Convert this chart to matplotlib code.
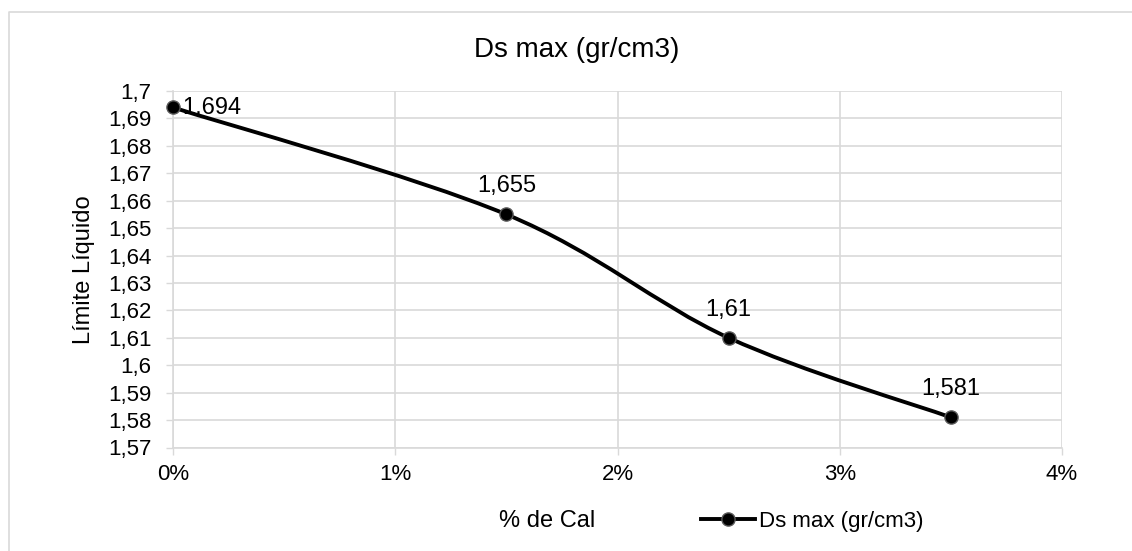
import matplotlib.pyplot as plt
from matplotlib.path import Path
from matplotlib.patches import PathPatch
from matplotlib.lines import Line2D
from matplotlib.ticker import FuncFormatter

plt.rcParams['font.family'] = ['Liberation Sans', 'DejaVu Sans']

# datos
cal = [0.0, 1.5, 2.5, 3.5]          # % de cal
ds_max = [1.694, 1.655, 1.61, 1.581]
etiquetas = ['1,694', '1,655', '1,61', '1,581']

titulo = 'Ds max (gr/cm3)'
xticks = [0, 1, 2, 3, 4]
yticks = [1.57 + 0.01 * i for i in range(14)]

gris = '#d9d9d9'
W, H = 1132, 551

fig = plt.figure(figsize=(11.32, 5.51), dpi=100)
ax = fig.add_axes([173 / W, 1 - 447.5 / H, 889 / W, 356.5 / H])

# linea suavizada tipo Excel (bezier por catmull-rom)
verts = [(cal[0], ds_max[0])]
codes = [Path.MOVETO]
n = len(cal)
for i in range(n - 1):
    p0 = (cal[max(i - 1, 0)], ds_max[max(i - 1, 0)])
    p1 = (cal[i], ds_max[i])
    p2 = (cal[i + 1], ds_max[i + 1])
    p3 = (cal[min(i + 2, n - 1)], ds_max[min(i + 2, n - 1)])
    c1 = (p1[0] + (p2[0] - p0[0]) / 6, p1[1] + (p2[1] - p0[1]) / 6)
    c2 = (p2[0] - (p3[0] - p1[0]) / 6, p2[1] - (p3[1] - p1[1]) / 6)
    verts += [c1, c2, p2]
    codes += [Path.CURVE4] * 3
ax.add_patch(PathPatch(Path(verts, codes), fill=False, lw=2.8, ec='black',
                       capstyle='round', zorder=3))
ax.plot(cal, ds_max, ls='none', marker='o', ms=9.5, mfc='black',
        mec='#595959', mew=1.0, zorder=4, clip_on=False)

# etiquetas de datos
ax.annotate(etiquetas[0], (cal[0], ds_max[0]), xytext=(7, 1.5),
            textcoords='offset points', ha='left', va='center_baseline', fontsize=17)
for x, y, t in zip(cal[1:], ds_max[1:], etiquetas[1:]):
    ax.annotate(t, (x, y), xytext=(0, 16), textcoords='offset points',
                ha='center', va='baseline', fontsize=17)

ax.set_xlim(0, 4)
ax.set_ylim(1.57, 1.7)
ax.set_xticks(xticks)
ax.set_yticks(yticks)
ax.xaxis.set_major_formatter(FuncFormatter(lambda v, p: f'{v:.0f}%'))
ax.yaxis.set_major_formatter(
    FuncFormatter(lambda v, p: (f'{v:.2f}'.rstrip('0').rstrip('.')).replace('.', ',')))
ax.tick_params(axis='both', labelsize=16, colors='black')
ax.tick_params(axis='x', length=4.7, color=gris, width=1, pad=7)
ax.tick_params(axis='y', length=5, color=gris, width=1, pad=10.5)
ax.grid(True, color=gris, lw=1.2)
ax.set_axisbelow(True)
for s in ['top', 'right']:
    ax.spines[s].set_visible(False)
for s in ['left', 'bottom']:
    ax.spines[s].set_color(gris)
    ax.spines[s].set_linewidth(1.2)

ax.set_ylabel('Límite Líquido', fontsize=17, va='center')
ax.yaxis.set_label_coords((84 - 173) / 889, 0.5)
fig.text(547 / W, 1 - 521 / H, '% de Cal', ha='center', va='center', fontsize=17)
fig.text(577 / W, 1 - 50 / H, titulo, ha='center', va='center', fontsize=20)

h = Line2D([], [], color='black', lw=2.8, marker='o', ms=9.5, mfc='black',
           mec='#595959', mew=1.0)
fig.legend([h], [titulo], loc='center left', bbox_to_anchor=(701 / W, 1 - 521 / H),
           frameon=False, fontsize=16, handlelength=2.45, handletextpad=0.18,
           borderpad=0, borderaxespad=0)

# borde del grafico (izquierda y arriba, el resto queda fuera)
fig.add_artist(Line2D([8.5 / W, 8.5 / W, 1.0], [0, 1 - 12 / H, 1 - 12 / H],
                      transform=fig.transFigure, color=gris, lw=1.2))

fig.savefig('out.png', dpi=100)
